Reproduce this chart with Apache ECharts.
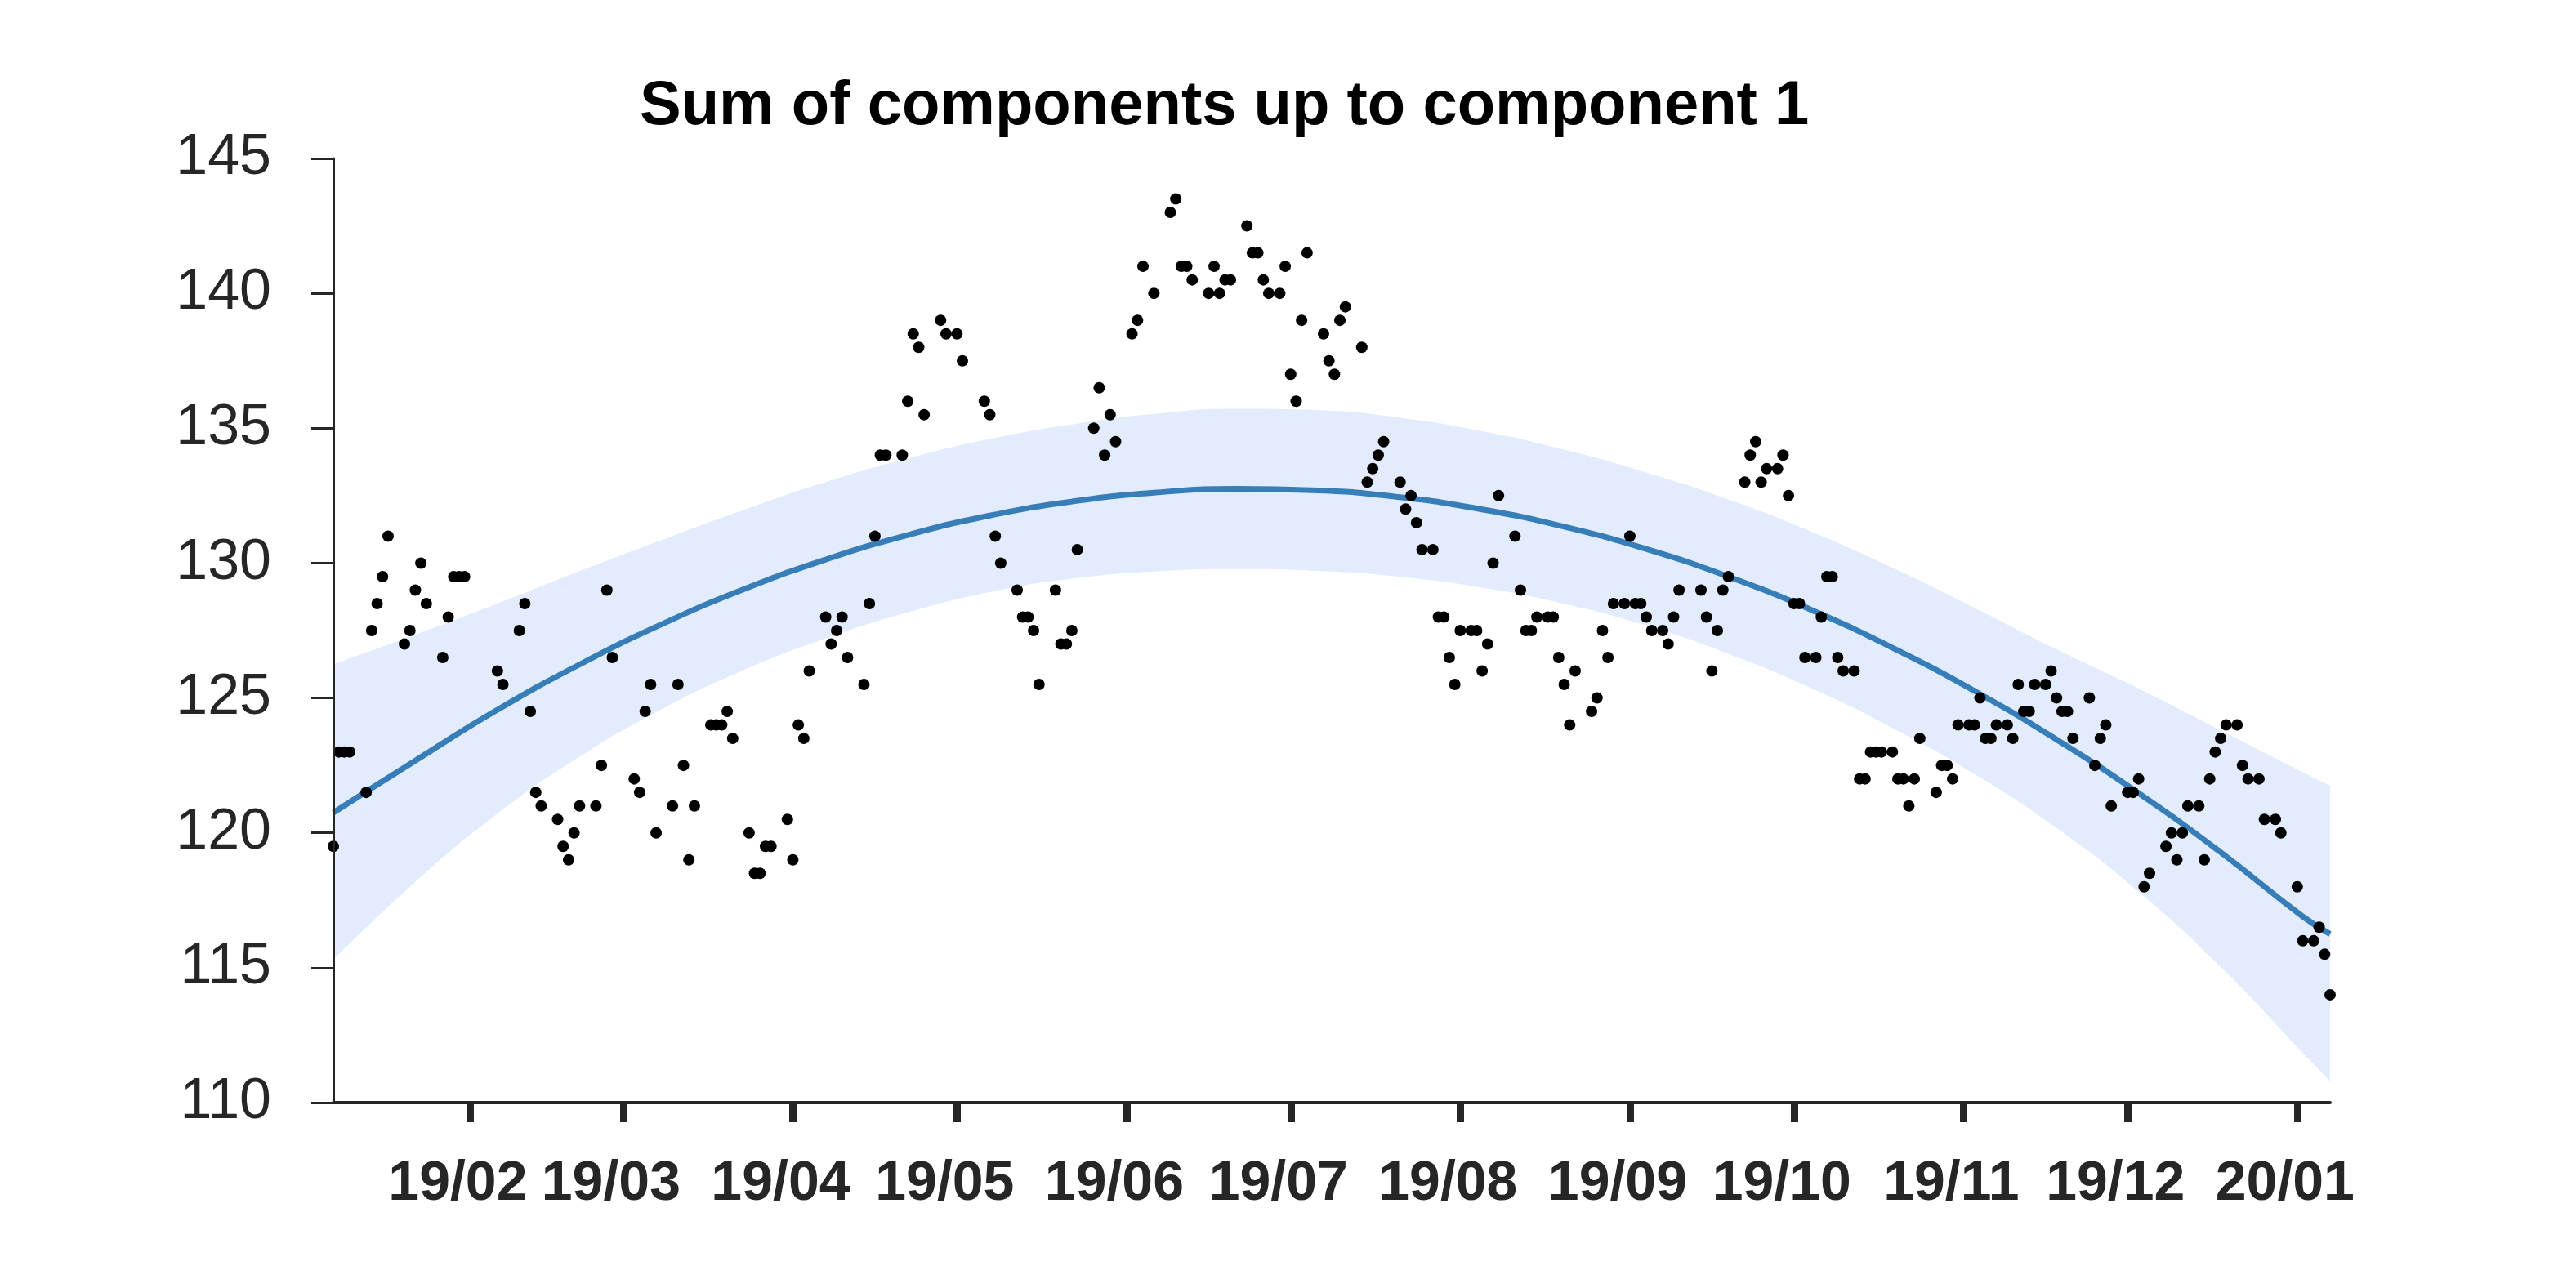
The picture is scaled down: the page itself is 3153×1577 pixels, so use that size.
<!DOCTYPE html>
<html>
<head>
<meta charset="utf-8">
<script src="https://cdn.jsdelivr.net/npm/echarts@6/dist/echarts.min.js"></script>
<style>
  html, body { margin: 0; padding: 0; background: #ffffff; }
  #chart { width: 3153px; height: 1577px; }
</style>
</head>
<body>
<div id="chart"></div>
<script>
// ---------------- data ----------------
const startDate = '2019-01-07';          // day 0 of the series
const endDay = 365;                      // last day on the axis

// observed points: day offset from startDate, value
const obsDay = [0,1,2,3,6,7,8,9,10,13,14,15,16,17,20,21,22,23,24,30,31,34,35,36,37,38,41,42,43,44,45,48,49,50,51,55,56,57,58,59,
  62,63,64,65,66,69,70,71,72,73,76,77,78,79,80,83,84,85,86,87,90,91,92,93,94,97,98,99,100,101,104,105,106,107,108,111,112,114,115,119,120,
  121,122,125,126,127,128,129,132,133,134,135,136,139,140,141,142,143,146,147,148,150,153,154,155,156,157,160,161,162,163,164,167,168,169,170,171,173,174,175,176,177,178,
  181,182,183,184,185,188,189,190,191,192,195,196,197,198,199,201,202,203,204,205,206,208,209,210,211,212,213,216,217,218,219,220,222,223,224,225,226,227,230,231,232,233,234,236,237,238,239,240,
  241,243,244,245,246,250,251,252,253,254,255,258,259,260,261,262,264,265,266,267,268,269,271,272,273,274,275,276,278,279,280,281,282,283,285,286,287,288,289,290,293,294,295,296,297,299,300,
  301,302,303,304,306,307,308,309,310,311,313,314,315,316,317,318,321,322,323,324,325,328,329,330,331,332,335,336,337,338,339,341,342,343,344,345,346,348,349,350,352,353,355,356,359,360,362,363,364,365];
const obsValue = [119.5,123,123,123,121.5,127.5,128.5,129.5,131,127,127.5,129,130,128.5,126.5,128,129.5,129.5,129.5,126,125.5,127.5,128.5,124.5,121.5,121,120.5,119.5,119,120,121,121,122.5,129,126.5,122,121.5,124.5,125.5,120,
  121,125.5,122.5,119,121,124,124,124,124.5,123.5,120,118.5,118.5,119.5,119.5,120.5,119,124,123.5,126,128,127,127.5,128,126.5,125.5,128.5,131,134,134,134,136,138.5,138,135.5,139,138.5,138.5,137.5,136,135.5,
  131,130,129,128,128,127.5,125.5,129,127,127,127.5,130.5,135,136.5,134,135.5,134.5,138.5,139,141,140,143,143.5,141,141,140.5,140,141,140,140.5,140.5,142.5,141.5,141.5,140.5,140,140,141,137,136,139,141.5,
  138.5,137.5,137,139,139.5,138,133,133.5,134,134.5,133,132,132.5,131.5,130.5,130.5,128,128,126.5,125.5,127.5,127.5,127.5,126,127,130,132.5,131,129,127.5,127.5,128,128,128,126.5,125.5,124,126,124.5,125,127.5,126.5,128.5,128.5,131,128.5,128.5,128,
  127.5,127.5,127,128,129,129,128,126,127.5,129,129.5,133,134,134.5,133,133.5,133.5,134,132.5,128.5,128.5,126.5,126.5,128,129.5,129.5,126.5,126,126,122,122,123,123,123,123,122,122,121,122,123.5,121.5,122.5,122.5,122,124,124,124,
  125,123.5,123.5,124,124,123.5,125.5,124.5,124.5,125.5,125.5,126,125,124.5,124.5,123.5,125,122.5,123.5,124,121,121.5,121.5,122,118,118.5,119.5,120,119,120,121,121,119,122,123,123.5,124,124,122.5,122,122,120.5,120.5,120,118,116,116,116.5,115.5,114];

// fitted component (mean) and its uncertainty band, read every 15 days
const fitDay   = [0,15,30,45,60,75,90,105,120,135,150,165,180,195,210,225,240,255,270,285,300,315,330,345,360,365];
const fitMean  = [120.75,122.68,124.56,126.24,127.73,129.03,130.13,131.04,131.76,132.28,132.61,132.75,132.69,132.44,131.99,131.35,130.52,129.50,128.28,126.86,125.26,123.46,121.47,119.28,116.90,116.25];
const fitUpper = [126.25,127.35,128.50,129.70,130.85,131.97,133.00,133.88,134.60,135.14,135.53,135.72,135.67,135.39,134.89,134.21,133.36,132.36,131.18,129.83,128.34,126.80,125.35,123.80,122.25,121.75];
const fitLower = [115.30,118.18,120.71,122.82,124.58,126.03,127.21,128.17,128.92,129.42,129.69,129.78,129.71,129.49,129.09,128.49,127.68,126.64,125.38,123.89,122.18,120.18,117.82,115.03,111.85,110.80];

// x-axis ticks (month starts) and their labels
const tickDates  = ['2019-02-01','2019-03-01','2019-04-01','2019-05-01','2019-06-01','2019-07-01','2019-08-01','2019-09-01','2019-10-01','2019-11-01','2019-12-01','2020-01-01'];
const tickLabels = ['19/02','19/03','19/04','19/05','19/06','19/07','19/08','19/09','19/10','19/11','19/12','20/01'];

// y axis
const yMin = 110, yMax = 145, yStep = 5;
const titleText = 'Sum of components up to component 1';

// ---------------- helpers ----------------
const DAY_MS = 86400000;
function parseUTC(s) { const p = s.split('-').map(Number); return Date.UTC(p[0], p[1] - 1, p[2]); }
const T0 = parseUTC(startDate);
const toTime = d => T0 + d * DAY_MS;
const tickTimes = tickDates.map(parseUTC);

const scatterData = obsDay.map((d, i) => [toTime(d), obsValue[i]]);
const meanData  = fitDay.map((d, i) => [toTime(d), fitMean[i]]);
const upperData = fitDay.map((d, i) => [toTime(d), fitUpper[i]]);
const lowerData = fitDay.map((d, i) => [toTime(d), fitLower[i]]);

const FONT = 'Liberation Sans, Arial, Helvetica, sans-serif';
const AXIS_COLOR = '#262626';
const BAND_COLOR = '#e3ecfd';

const chart = echarts.init(document.getElementById('chart'), null, { renderer: 'canvas' });
chart.setOption({
  backgroundColor: '#ffffff',
  animation: false,
  title: {
    text: titleText,
    left: 778,
    top: 88,
    textStyle: { fontFamily: FONT, fontSize: 76, fontWeight: 'bold', color: '#000000' }
  },
  grid: { left: 408, right: 301, top: 194, bottom: 227, containLabel: false },
  xAxis: {
    type: 'value',
    min: T0,
    max: toTime(endDay),
    z: 10,
    splitLine: { show: false },
    axisLine: { show: true, onZero: false, lineStyle: { color: AXIS_COLOR, width: 4 } },
    axisTick: { show: true, inside: false, length: 24, lineStyle: { color: AXIS_COLOR, width: 9 }, customValues: tickTimes },
    axisLabel: {
      customValues: tickTimes,
      margin: 66,
      fontFamily: FONT,
      fontSize: 68,
      fontWeight: 'bold',
      color: AXIS_COLOR,
      padding: [0, 30, 0, 0],
      formatter: function (v) {
        let best = 0, bd = Infinity;
        tickTimes.forEach((t, i) => { const dd = Math.abs(t - v); if (dd < bd) { bd = dd; best = i; } });
        return tickLabels[best];
      }
    }
  },
  yAxis: {
    type: 'value',
    min: yMin,
    max: yMax,
    interval: yStep,
    z: 10,
    splitLine: { show: false },
    axisLine: { show: true, lineStyle: { color: AXIS_COLOR, width: 3 } },
    axisTick: { show: true, inside: false, length: 27, lineStyle: { color: AXIS_COLOR, width: 3 } },
    axisLabel: { margin: 76, fontFamily: FONT, fontSize: 70, color: AXIS_COLOR }
  },
  series: [
    {
      // upper edge of the band, filled down to the axis
      name: 'bandUpper',
      type: 'line',
      data: upperData,
      smooth: 0.5,
      symbol: 'none',
      lineStyle: { width: 0, opacity: 0 },
      areaStyle: { color: BAND_COLOR, opacity: 1, origin: 'start' },
      silent: true,
      z: 1
    },
    {
      // lower edge of the band, background below it
      name: 'bandLower',
      type: 'line',
      data: lowerData,
      smooth: 0.5,
      symbol: 'none',
      lineStyle: { width: 0, opacity: 0 },
      areaStyle: { color: '#ffffff', opacity: 1, origin: 'start' },
      silent: true,
      z: 2
    },
    {
      name: 'mean',
      type: 'line',
      data: meanData,
      smooth: 0.5,
      symbol: 'none',
      lineStyle: { color: '#377eb8', width: 7 },
      z: 3
    },
    {
      name: 'observed',
      type: 'scatter',
      data: scatterData,
      symbol: 'circle',
      symbolSize: 14,
      itemStyle: { color: '#000000', opacity: 1 },
      z: 4
    }
  ]
});
</script>
</body>
</html>
